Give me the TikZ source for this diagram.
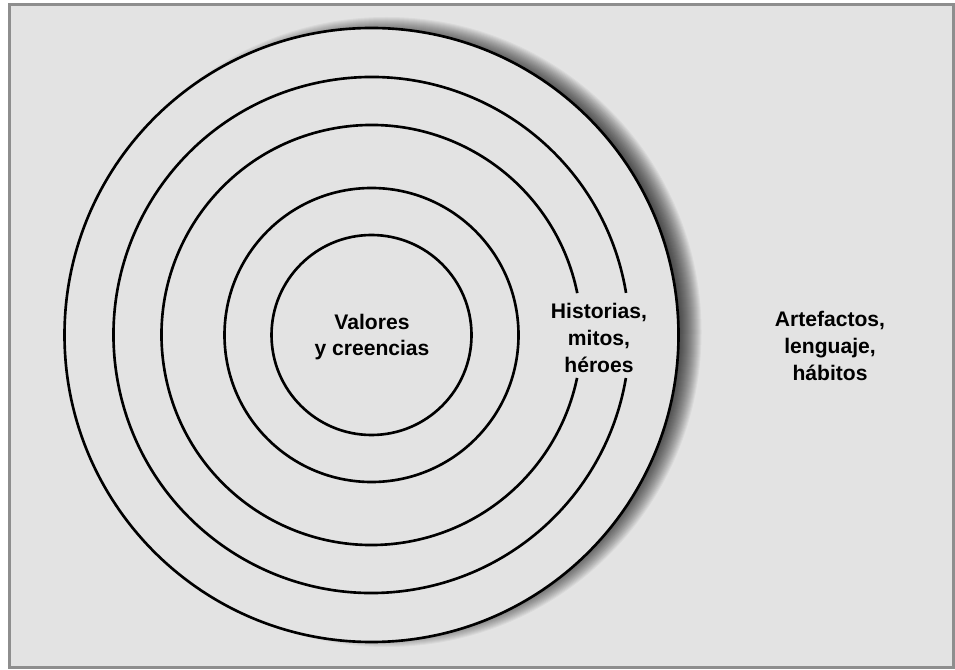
\documentclass[tikz,border=0pt]{standalone}
\usepackage{fontspec}
\setmainfont{Liberation Sans}
\definecolor{panelbg}{HTML}{E3E3E3}
\definecolor{panelrule}{HTML}{8E8E8E}
\begin{document}
\begin{tikzpicture}[x=0.02cm,y=0.02cm,
    ring/.style={line width=1.5pt},
    layer/.style={font=\bfseries\fontsize{12}{15.2}\selectfont,align=center}]
  \useasboundingbox (0,0) rectangle (955,669);
  % panel
  \fill[white] (0,0) rectangle (955,669);
  \draw[panelrule,fill=panelbg,line width=1.7pt] (9.5,664.5) rectangle (953.5,1.3);
  % shadow of the outer ring
  \coordinate (c) at (371.5,334);
  \foreach \k in {0,...,25}
    \fill[black,opacity=0.045] ([shift={(15,3)}]c) circle ({290+\k});
  % rings
  \draw[ring,fill=panelbg] (c) circle (307);
  \draw[ring] (c) circle (100);
  \draw[ring] (c) circle (147);
  \draw[ring] (c) ++(11.5:210) arc (11.5:348.2:210);
  \draw[ring] (c) ++(9.4:258) arc (9.4:350.4:258);
  % labels
  \node[layer] (valores) at (372,332) {Valores\\y creencias};
  \node[layer] (historias) at (599,331) {Historias,\\mitos,\\héroes};
  \node[layer] (artefactos) at (830,323) {Artefactos,\\lenguaje,\\hábitos};
\end{tikzpicture}
\end{document}
